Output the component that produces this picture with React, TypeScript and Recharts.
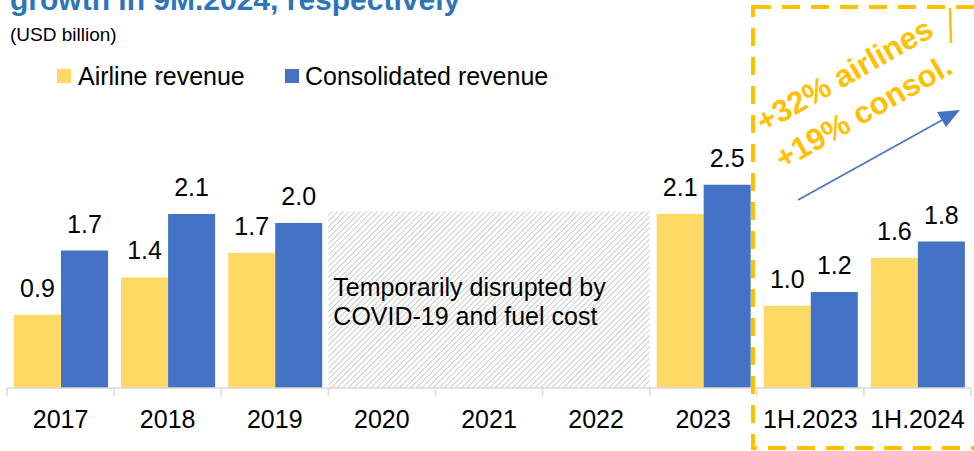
import React from "react";
import {
  BarChart,
  Bar,
  XAxis,
  YAxis,
  LabelList,
  ReferenceArea,
} from "recharts";

// values (USD billion)
const categories = ["2017", "2018", "2019", "2020", "2021", "2022", "2023", "1H.2023", "1H.2024"];
const airlineRevenue = [0.9, 1.36, 1.66, null, null, null, 2.14, 1.01, 1.6];
const consolidatedRevenue = [1.69, 2.14, 2.03, null, null, null, 2.5, 1.18, 1.8];

// covid gap, drawn as a hatched block
const disruptedFrom = "2020";
const disruptedTo = "2022";
const disruptedTop = 2.17;
const disruptedNote = ["Temporarily disrupted by", "COVID-19 and fuel cost"];

const chartData = categories.map((name, i) => ({
  name,
  airline: airlineRevenue[i],
  consolidated: consolidatedRevenue[i],
}));

const FONT = "'Liberation Sans', Arial, sans-serif";
const YELLOW = "#FFD966";
const BLUE = "#4472C4";
const ORANGE = "#FFC000";

const fmt = (v: any) => (v == null ? "" : Number(v).toFixed(1));

const CategoryTick = (props: any) => {
  const { x, y, payload, index } = props;
  const half = payload && payload.offset ? payload.offset : 53.5;
  return (
    <g>
      <line x1={x - half} x2={x - half} y1={y} y2={y + 8} stroke="#D9D9D9" strokeWidth={1.5} />
      {index === categories.length - 1 && (
        <line x1={x + half} x2={x + half} y1={y} y2={y + 8} stroke="#D9D9D9" strokeWidth={1.5} />
      )}
      <text x={x} y={y + 40} textAnchor="middle" fontSize={25} fill="#000" fontFamily={FONT}>
        {payload.value}
      </text>
    </g>
  );
};

const NoteLabel = (props: any) => {
  const { viewBox } = props;
  if (!viewBox) return null;
  return (
    <text x={viewBox.x + 5} y={296} fontSize={25} fill="#000" fontFamily={FONT}>
      <tspan x={viewBox.x + 5}>{disruptedNote[0]}</tspan>
      <tspan x={viewBox.x + 5} dy={29}>{disruptedNote[1]}</tspan>
    </text>
  );
};

export default function App() {
  return (
    <div style={{ position: "absolute", left: 0, top: 0, width: 974, height: 451, background: "#fff", overflow: "hidden" }}>
      <BarChart
        width={974}
        height={451}
        data={chartData}
        margin={{ top: 144, right: 3, left: 7, bottom: 23 }}
        barCategoryGap={7}
        barGap={0}
        style={{ fontFamily: FONT }}
      >
        <defs>
          <pattern id="hatch" width="4" height="4" patternUnits="userSpaceOnUse" patternTransform="rotate(45)">
            <rect width="4" height="4" fill="#fff" />
            <line x1="0" y1="0" x2="0" y2="4" stroke="#A6A6A6" strokeWidth="1.2" />
          </pattern>
        </defs>
        <YAxis hide domain={[0, 3]} />
        <XAxis
          dataKey="name"
          height={40}
          tickSize={0}
          tickMargin={0}
          tickLine={false}
          axisLine={{ stroke: "#D9D9D9", strokeWidth: 1.5 }}
          tick={<CategoryTick />}
          interval={0}
        />
        <ReferenceArea
          x1={disruptedFrom}
          x2={disruptedTo}
          y1={0}
          y2={disruptedTop}
          fill="url(#hatch)"
          fillOpacity={1}
          stroke="none"
          ifOverflow="visible"
          label={<NoteLabel />}
        />
        <Bar dataKey="airline" fill={YELLOW} isAnimationActive={false}>
          <LabelList dataKey="airline" position="top" offset={18} formatter={fmt} fontSize={25} fill="#000" fontFamily={FONT} />
        </Bar>
        <Bar dataKey="consolidated" fill={BLUE} isAnimationActive={false}>
          <LabelList dataKey="consolidated" position="top" offset={18} formatter={fmt} fontSize={25} fill="#000" fontFamily={FONT} />
        </Bar>
      </BarChart>

      {/* headings, legend and call-out drawn on top */}
      <svg width={974} height={451} style={{ position: "absolute", left: 0, top: 0, pointerEvents: "none" }}>
        <text x={10} y={10} fontSize={30} fontWeight="bold" fill="#2E75B6" fontFamily={FONT}>
          growth in 9M.2024, respectively
        </text>
        <text x={10} y={41} fontSize={19} fill="#000" fontFamily={FONT}>
          (USD billion)
        </text>

        <rect x={57} y={69} width={14} height={14} fill={YELLOW} />
        <text x={78} y={85} fontSize={25} fill="#000" fontFamily={FONT}>Airline revenue</text>
        <rect x={285} y={69} width={14} height={14} fill={BLUE} />
        <text x={305} y={85} fontSize={25} fill="#000" fontFamily={FONT}>Consolidated revenue</text>

        <rect x={753} y={7} width={260} height={441} fill="none" stroke={ORANGE} strokeWidth={4} strokeDasharray="18 11" />
        <line x1={950} y1={8} x2={951} y2={43} stroke={ORANGE} strokeWidth={2.5} />

        <g fontFamily={FONT} fontWeight="bold" fontSize={31} fill={ORANGE}>
          <text x={764} y={133} transform="rotate(-29.7 764 133)">+32% airlines</text>
          <text x={783} y={170} transform="rotate(-29.7 783 170)">+19% consol.</text>
        </g>

        <line x1={798} y1={200} x2={944} y2={119} stroke={BLUE} strokeWidth={1.5} />
        <path d="M960,110 L937,112 L946,127 Z" fill={BLUE} />
      </svg>
    </div>
  );
}
